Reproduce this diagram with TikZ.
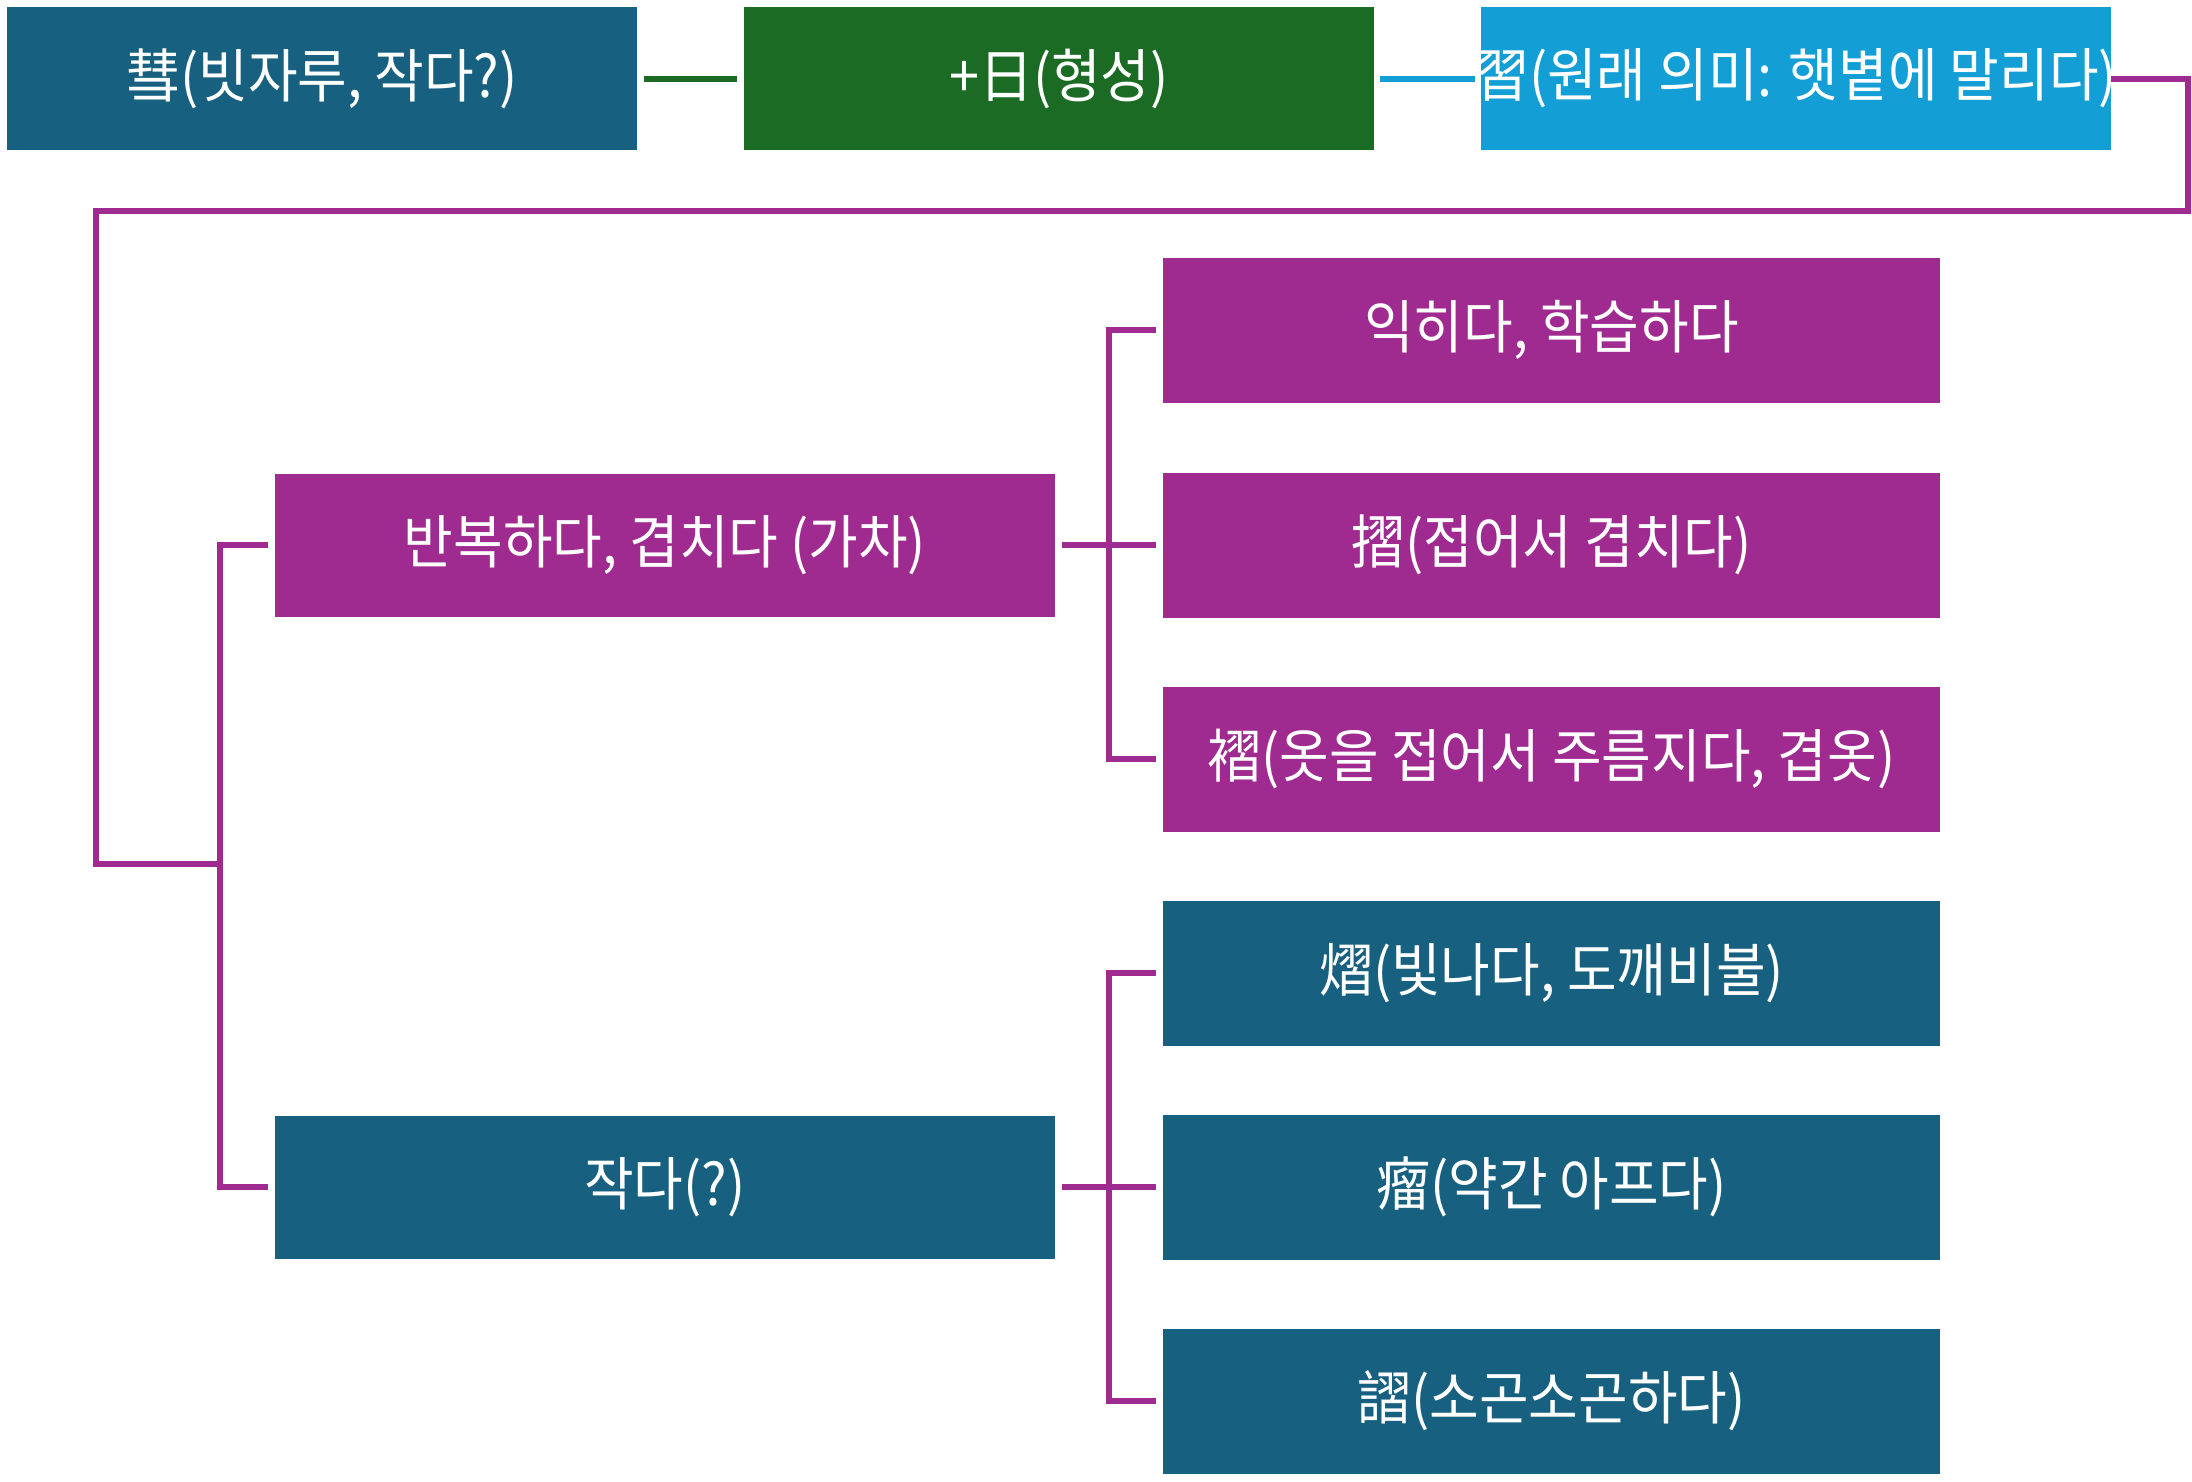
\documentclass[tikz,border=0pt]{standalone}
\usepackage{fontspec}
\usepackage{graphicx}
\setmainfont{Noto Sans CJK KR}
\definecolor{cteal}{HTML}{17607F}
\definecolor{cgreen}{HTML}{1B6B25}
\definecolor{cblue}{HTML}{139FD6}
\definecolor{cpurp}{HTML}{A02B90}
\newcommand\lb[1]{\makebox[0pt][c]{\scalebox{0.93}[1]{#1}}}
\begin{document}
\begin{tikzpicture}[x=1pt,y=-1pt,
 base/.style={rectangle, inner sep=0pt, text=white, font=\fontsize{58}{64}\selectfont},
 topbox/.style={base, minimum width=630pt, minimum height=143pt},
 midbox/.style={base, minimum width=780pt, minimum height=143pt},
 rbox/.style={base, minimum width=777pt, minimum height=145pt},
 conn/.style={line width=6pt},
 pline/.style={conn, draw=cpurp},
]
\useasboundingbox[fill=white] (0,0) rectangle (2192,1481);
\node[topbox, fill=cteal] (b1) at (322,78.5) {\lb{彗(빗자루, 작다?)}};
\node[topbox, fill=cgreen] (b2) at (1059,78.5) {\lb{+日(형성)}};
\node[topbox, fill=cblue] (b3) at (1796,78.5) {\lb{習(원래 의미: 햇볕에 말리다)}};
\node[midbox, fill=cpurp] (m1) at (665,545) {\lb{반복하다, 겹치다 (가차)}};
\node[midbox, fill=cteal] (m2) at (665,1187) {\lb{작다(?)}};
\node[rbox, fill=cpurp] (r1) at (1551.5,330) {\lb{익히다, 학습하다}};
\node[rbox, fill=cpurp] (r2) at (1551.5,545) {\lb{摺(접어서 겹치다)}};
\node[rbox, fill=cpurp] (r3) at (1551.5,759) {\lb{褶(옷을 접어서 주름지다, 겹옷)}};
\node[rbox, fill=cteal] (r4) at (1551.5,973) {\lb{熠(빛나다, 도깨비불)}};
\node[rbox, fill=cteal] (r5) at (1551.5,1187) {\lb{瘤(약간 아프다)}};
\node[rbox, fill=cteal] (r6) at (1551.5,1401) {\lb{謵(소곤소곤하다)}};
\draw[conn, draw=cgreen, shorten <=7pt, shorten >=7pt] (b1) -- (b2);
\draw[conn, draw=cblue, shorten <=6pt, shorten >=6pt] (b2) -- (b3);
\coordinate (c1) at (2188,211);
\coordinate (c2) at (96,864);
\coordinate (j0) at (220,864);
\coordinate (k1) at (1109,545);
\coordinate (k2) at (1109,1187);
\draw[pline] (b3.east) -| (c1) -| (c2) -- (j0);
\draw[pline, shorten <=7pt] (m1.west) -| (j0);
\draw[pline, shorten <=7pt] (m2.west) -| (j0);
\draw[pline, shorten <=7pt] (m1.east) -- (k1);
\draw[pline, shorten >=7pt] (k1) |- (r1.west);
\draw[pline, shorten >=7pt] (k1) -- (r2.west);
\draw[pline, shorten >=7pt] (k1) |- (r3.west);
\draw[pline, shorten <=7pt] (m2.east) -- (k2);
\draw[pline, shorten >=7pt] (k2) |- (r4.west);
\draw[pline, shorten >=7pt] (k2) -- (r5.west);
\draw[pline, shorten >=7pt] (k2) |- (r6.west);
\end{tikzpicture}
\end{document}
